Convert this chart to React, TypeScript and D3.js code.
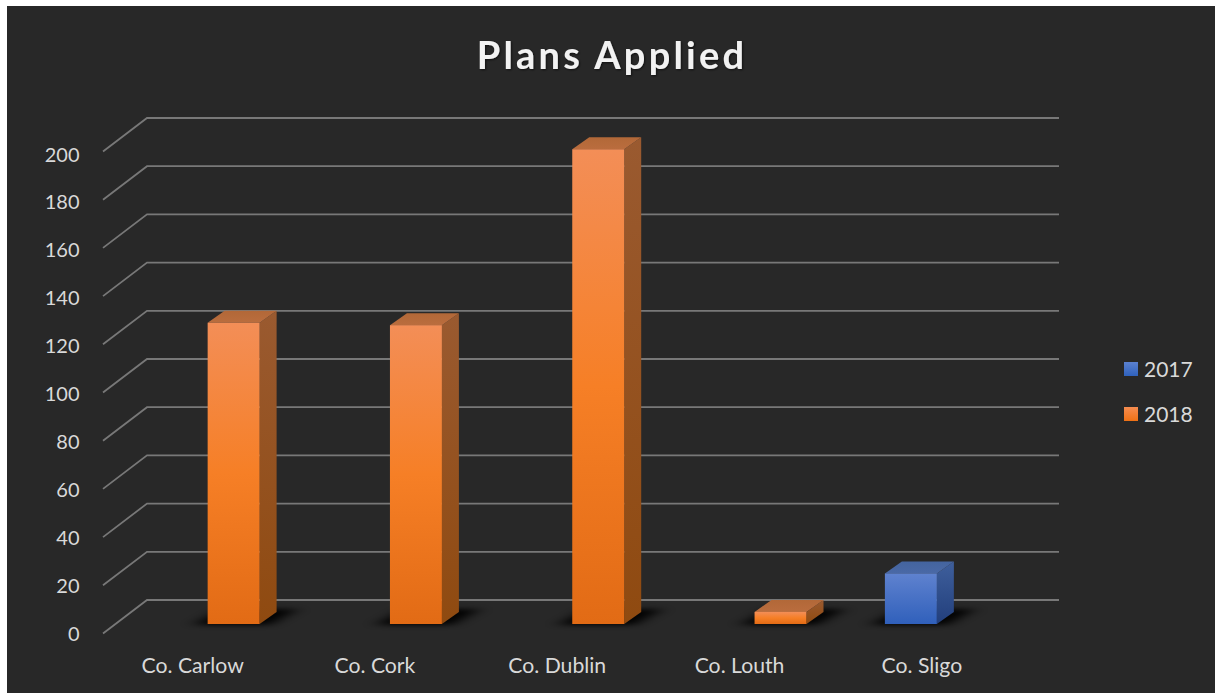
import { useEffect, useRef } from "react";
import * as d3 from "d3";

const categories = ["Co. Carlow", "Co. Cork", "Co. Dublin", "Co. Louth", "Co. Sligo"];
const seriesNames = ["2017", "2018"];
const values2017 = [null, null, null, null, 21];
const values2018 = [125, 124, 197, 5, null];
const yTicks = [0, 20, 40, 60, 80, 100, 120, 140, 160, 180, 200];

const WIDTH = 1215;
const HEIGHT = 693;
const FONT = "Lato, Carlito, 'Open Sans', sans-serif";

// wall offset of the 3D box: front of the floor -> back wall
const wallX = 103;
const wallDx = 44;
const wallDy = -33.5;
// bars are not as deep as the floor
const barDx = 17;
const barDy = -12;
const floorY = 624;

const App = () => {
    const svgRef = useRef<SVGSVGElement | null>(null);

    useEffect(() => {
        const svg = d3.select(svgRef.current);
        svg.selectAll("*").remove();

        const defs = svg.append("defs");

        const addGradient = (id: string, stops: [string, string][]) => {
            const g = defs.append("linearGradient").attr("id", id)
                .attr("x1", "0").attr("y1", "0").attr("x2", "0").attr("y2", "1");
            stops.forEach(([o, c]) => g.append("stop").attr("offset", o).attr("stop-color", c));
        };
        addGradient("front2018", [["0", "#f38e57"], ["0.5", "#f67f26"], ["1", "#e26b15"]]);
        addGradient("side2018", [["0", "#9a5a30"], ["1", "#8f4a10"]]);
        addGradient("top2018", [["0", "#b26838"], ["1", "#ba6d3e"]]);
        addGradient("front2017", [["0", "#5f82cf"], ["1", "#3060bb"]]);
        addGradient("side2017", [["0", "#3f5f9c"], ["1", "#223f7c"]]);
        addGradient("top2017", [["0", "#44649f"], ["1", "#4a69a6"]]);
        addGradient("legend2017", [["0", "#5b81d0"], ["1", "#2f62bd"]]);
        addGradient("legend2018", [["0", "#f58c50"], ["1", "#ee7115"]]);

        const blur = defs.append("filter").attr("id", "shadowBlur")
            .attr("x", "-50%").attr("y", "-150%").attr("width", "200%").attr("height", "400%");
        blur.append("feGaussianBlur").attr("stdDeviation", "8 2.5");

        const titleShadow = defs.append("filter").attr("id", "titleShadow");
        titleShadow.append("feDropShadow").attr("dx", 1).attr("dy", 1)
            .attr("stdDeviation", 1).attr("flood-color", "#000").attr("flood-opacity", 0.6);

        svg.append("rect")
            .attr("width", WIDTH).attr("height", HEIGHT).attr("fill", "#ffffff");
        svg.append("rect")
            .attr("x", 7).attr("y", 6).attr("width", WIDTH - 7).attr("height", HEIGHT - 6)
            .attr("fill", "#282828");

        svg.append("text")
            .attr("x", 612).attr("y", 68.5)
            .attr("text-anchor", "middle")
            .attr("font-family", FONT).attr("font-size", 38).attr("font-weight", 700)
            .attr("letter-spacing", 3.2)
            .attr("fill", "#f2f2f2")
            .attr("filter", "url(#titleShadow)")
            .text("Plans Applied");

        // y is the front edge of the floor, wall lines start from there
        const y = d3.scaleLinear().domain([0, 200]).range([633.5, 151.5]);
        // tick labels sit a bit tighter than the wall lines
        const yLabel = d3.scaleLinear().domain([0, 200]).range([641, 161.5]);
        const x0 = d3.scaleBand<string>().domain(categories)
            .range([116.5, 1028]).paddingInner(0.43).paddingOuter(0.215);
        const x1 = d3.scaleBand<string>().domain(seriesNames)
            .range([0, x0.bandwidth()]);

        const grid = svg.append("g")
            .attr("fill", "none").attr("stroke", "#787878").attr("stroke-width", 1.8);
        yTicks.forEach((t) => {
            grid.append("path")
                .attr("d", d3.line()([
                    [wallX, y(t)],
                    [wallX + wallDx, y(t) + wallDy],
                    [1059, y(t) + wallDy],
                ]));
        });

        svg.append("g")
            .selectAll("text")
            .data(yTicks)
            .join("text")
            .attr("x", 79.5).attr("y", (d) => yLabel(d))
            .attr("text-anchor", "end")
            .attr("font-family", FONT).attr("font-size", 20).attr("fill", "#d9d9d9")
            .text((d) => d);

        svg.append("g")
            .selectAll("text")
            .data(categories)
            .join("text")
            .attr("x", (d) => (x0(d) ?? 0) + x0.bandwidth() / 2 - 15)
            .attr("y", 673)
            .attr("text-anchor", "middle")
            .attr("font-family", FONT).attr("font-size", 21.2).attr("fill", "#d9d9d9")
            .text((d) => d);

        const barLayer = svg.append("g");
        const h = (v: number) => y(0) - y(v);
        const path = d3.line();

        const drawBar = (cat: string, name: string, v: number) => {
            const left = (x0(cat) ?? 0) + (x1(name) ?? 0);
            const w = x1.bandwidth();
            const top = floorY - h(v);

            // floor shadow, leans to the back right
            barLayer.append("path")
                .attr("d", path([
                    [left - 14, floorY + 1], [left + w + 10, floorY + 1],
                    [left + w + 38, floorY + barDy - 3], [left + 14, floorY + barDy - 3],
                ]) + "Z")
                .attr("fill", "#000").attr("opacity", 0.95)
                .attr("filter", "url(#shadowBlur)");

            barLayer.append("path")
                .attr("d", path([
                    [left + w, top], [left + w + barDx, top + barDy],
                    [left + w + barDx, floorY + barDy], [left + w, floorY],
                ]) + "Z")
                .attr("fill", `url(#side${name})`);
            barLayer.append("path")
                .attr("d", path([
                    [left, top], [left + barDx, top + barDy],
                    [left + w + barDx, top + barDy], [left + w, top],
                ]) + "Z")
                .attr("fill", `url(#top${name})`);
            barLayer.append("rect")
                .attr("x", left).attr("y", top)
                .attr("width", w).attr("height", h(v))
                .attr("fill", `url(#front${name})`);
        };

        const seriesValues = [values2017, values2018];
        seriesNames.forEach((name, s) => {
            categories.forEach((cat, i) => {
                const v = seriesValues[s][i];
                if (v !== null) drawBar(cat, name, v);
            });
        });

        const legendY = d3.scalePoint<string>().domain(seriesNames).range([369, 414]);
        seriesNames.forEach((name) => {
            const ly = legendY(name) ?? 0;
            svg.append("rect")
                .attr("x", 1124).attr("y", ly - 7).attr("width", 14).attr("height", 14)
                .attr("fill", `url(#legend${name})`);
            svg.append("text")
                .attr("x", 1144).attr("y", ly + 8)
                .attr("font-family", FONT).attr("font-size", 21).attr("fill", "#d9d9d9")
                .text(name);
        });
    }, []);

    return (
        <svg
            ref={svgRef}
            width={WIDTH}
            height={HEIGHT}
            style={{ position: "absolute", left: 0, top: 0, display: "block" }}
        />
    );
};

export default App;
